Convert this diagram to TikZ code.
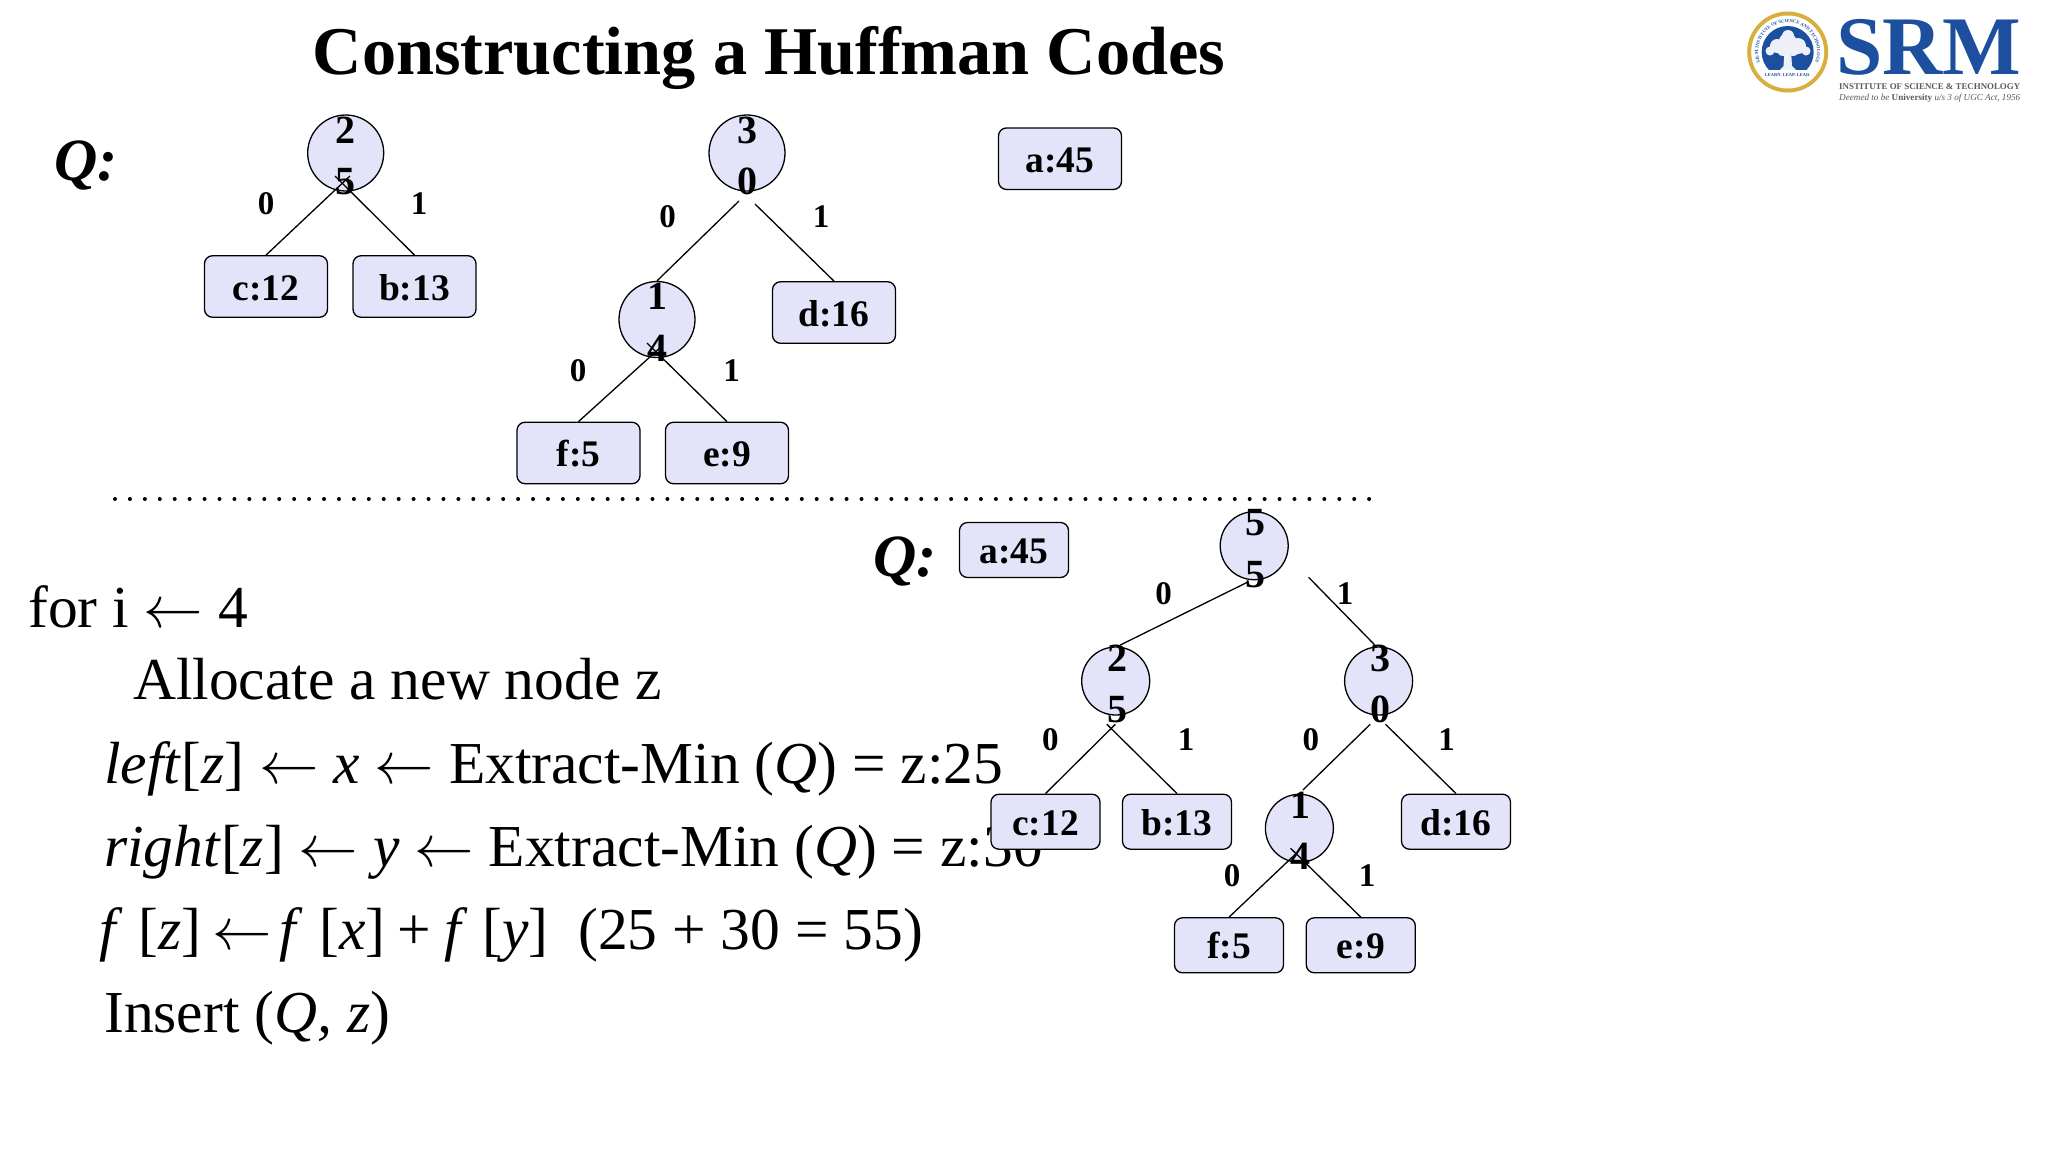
\documentclass[tikz,border=0pt]{standalone}
\usepackage{fontspec}
\setmainfont{Liberation Serif}
\usetikzlibrary{decorations.text}
\definecolor{nodefill}{HTML}{E3E4FA}
\definecolor{srmblue}{HTML}{1D4F9F}
\definecolor{srmgold}{HTML}{D8AE3C}
\definecolor{srmgrey}{HTML}{5A5A5A}
\newcommand{\tstack}[2]{\makebox[0pt]{\smash{\raisebox{10pt}{\makebox[0pt]{#1}}\raisebox{-41.5pt}{\makebox[0pt]{#2}}}}}
\newcommand{\tstackb}[2]{\kern3pt\tstack{#1}{#2}}
\newcommand{\larr}{\scalebox{5.95}{\fontsize{10}{12}\selectfont$\leftarrow$}}
\tikzset{
  x=1pt,y=-1pt,
  leafbig/.style={draw=black,line width=1.3pt,fill=nodefill,rounded corners=8pt,minimum width=123pt,minimum height=61.5pt,inner sep=0pt,text height=27pt,text depth=0pt,font=\fontsize{37.5}{44}\selectfont\bfseries},
  leafsmall/.style={leafbig,minimum width=109pt,minimum height=55pt},
  innerbig/.style={circle,draw=black,line width=1.3pt,fill=nodefill,minimum size=76pt,inner sep=0pt,font=\fontsize{40}{46}\selectfont\bfseries},
  innersmall/.style={innerbig,minimum size=68pt},
  edge/.style={draw=black,line width=1.3pt},
  bit/.style={inner sep=0pt,font=\fontsize{33}{38}\selectfont\bfseries},
  codeline/.style={anchor=base west,inner sep=0pt,font=\fontsize{59.5}{70}\selectfont},
  qmark/.style={anchor=base west,inner sep=0pt,font=\fontsize{60}{68}\selectfont\bfseries\itshape},
}
\begin{document}
\begin{tikzpicture}
\useasboundingbox[fill=white] (0,0) rectangle (2048,1152);
% title
\node[anchor=base west,inner sep=0pt,font=\fontsize{68.3}{80}\selectfont\bfseries] (title) at (312.5,74.5) {Constructing a Huffman Codes};
% logo
\fill[srmgold] (1787.7,52) circle (40.5);
\fill[white] (1787.7,52) circle (36.5);
\fill[srmblue] (1787.7,52) circle (26);
\fill[white!92!srmblue] (1787.7,42) circle (9) (1777,46) circle (7) (1798,46) circle (8) (1770,51) circle (4.5) (1806,51) circle (4.5) (1783,50) circle (6) (1793,50) circle (6) (1788,36) circle (6);
\fill[white!92!srmblue] (1784.5,50) -- (1791,50) -- (1792,66) -- (1796,70) -- (1780,70) -- (1783.5,66) -- cycle;
\fill[white] (1768,70) rectangle (1808,80);
\path[postaction={decorate},decoration={text along path,text align=center,text={|\fontsize{4.6}{5}\selectfont\bfseries\color{srmblue}|S.R.M. INSTITUTE OF SCIENCE AND TECHNOLOGY}}]
  (1766.8,72.9) arc[start angle=225,end angle=-45,radius=29.5pt];
\node[inner sep=0pt,font=\fontsize{4.5}{5}\selectfont\bfseries,text=srmblue] (motto) at (1787.7,75) {LEARN. LEAP. LEAD.};
\node[anchor=base west,inner sep=0pt,text=srmblue,font=\fontsize{85}{90}\selectfont\bfseries] (srm) at (1836,74) {\resizebox{185pt}{!}{SRM}};
\node[anchor=base west,inner sep=0pt,text=srmgrey,font=\bfseries] (inst) at (1839,89) {\resizebox{181pt}{!}{INSTITUTE OF SCIENCE \& TECHNOLOGY}};
\node[anchor=base west,inner sep=0pt,text=srmgrey,font=\itshape] (deemed) at (1839,100) {\resizebox{181pt}{!}{Deemed to be {\bfseries\upshape University} u/s 3 of UGC Act, 1956}};
% Q labels
\node[qmark] (q1) at (54,180) {Q:};
\node[qmark] (q2) at (873,576) {Q:};
% dotted rule
\coordinate (dotL) at (115,499);
\coordinate (dotR) at (1372,499);
\draw[line width=4pt,line cap=round,dash pattern=on 0pt off 14.93pt] (dotL) -- (dotR);
% pseudo-code
\node[codeline] (l1) at (28,627) {for i \larr{} 4};
\node[codeline] (l2) at (133,699) {Allocate a new node z};
\node[codeline] (l3) at (104,783.5) {\textit{left}[\textit{z}] \larr{} \textit{x} \larr{} Extract-Min (\textit{Q}) = z:25};
\node[codeline] (l4) at (104,866.5) {\textit{right}[\textit{z}] \larr{} \textit{y} \larr{} Extract-Min (\textit{Q}) = z:30};
\node[codeline] (l5) at (104,949) {\kern-5pt\textit{f}\kern16pt[\textit{z}]\kern11pt\larr{}\kern8pt\textit{f}\kern16pt[\textit{x}]\kern12pt+\kern14pt\textit{f}\kern14pt[\textit{y}]\kern30pt(25 + 30 = 55)};
\node[codeline] (l6) at (104,1032.5) {Insert (\textit{Q, z})};
% upper trees
\node[innerbig] (A25) at (345.7,153) {\tstack{2}{5}};
\node[leafbig] (Ac) at (266,286.5) {c:12};
\node[leafbig] (Ab) at (414.5,286.5) {b:13};
\node[innerbig] (A30) at (747,153) {\tstack{3}{0}};
\node[leafbig] (Ad) at (834,312.5) {d:16};
\node[innerbig] (A14) at (657,319.5) {\tstack{1}{4}};
\node[leafbig] (Af) at (578.5,453) {f:5};
\node[leafbig] (Ae) at (727,453) {e:9};
\node[leafbig] (Aa) at (1060,158.7) {a:45};
\coordinate (A25l) at (350,176);
\coordinate (A25r) at (335,176);
\coordinate (A30l) at (739,201);
\coordinate (A30r) at (755,204);
\coordinate (A14l) at (662,346);
\coordinate (A14r) at (647,343);
\draw[edge] (A25l) -- (Ac.north);
\draw[edge] (A25r) -- (Ab.north);
\draw[edge] (A30l) -- (A14.north);
\draw[edge] (A30r) -- (Ad.north);
\draw[edge] (A14l) -- (Af.north);
\draw[edge] (A14r) -- (Ae.north);
\node[bit] (Ab1) at (266,204) {0};
\node[bit] (Ab2) at (419,204) {1};
\node[bit] (Ab3) at (667.5,217) {0};
\node[bit] (Ab4) at (821,217) {1};
\node[bit] (Ab5) at (578,371) {0};
\node[bit] (Ab6) at (731.5,371) {1};
% lower tree
\node[leafsmall] (Ba) at (1014,550) {a:45};
\node[innersmall] (B55) at (1254.2,545.7) {\tstackb{5}{5}};
\node[innersmall] (B25) at (1115.7,681) {\tstackb{2}{5}};
\node[innersmall] (B30) at (1378.6,681) {\tstackb{3}{0}};
\node[innersmall] (B14) at (1299.4,828.3) {\tstackb{1}{4}};
\node[leafsmall] (Bc) at (1045.5,821.7) {c:12};
\node[leafsmall] (Bb) at (1177,821.7) {b:13};
\node[leafsmall] (Bd) at (1456,821.7) {d:16};
\node[leafsmall] (Bf) at (1229,945.3) {f:5};
\node[leafsmall] (Be) at (1360.8,945.3) {e:9};
\coordinate (B55l) at (1248.5,581.7);
\coordinate (B55r) at (1308.6,577.3);
\coordinate (B25t) at (1120.3,645);
\coordinate (B30t) at (1374.8,645);
\coordinate (B25l) at (1115.3,724.3);
\coordinate (B25r) at (1106.9,724.3);
\coordinate (B30l) at (1370.2,724.3);
\coordinate (B30r) at (1385.5,724.3);
\coordinate (B14t) at (1302.9,790);
\coordinate (B14l) at (1296.3,853.3);
\coordinate (B14r) at (1290.6,848.3);
\draw[edge] (B55l) -- (B25t);
\draw[edge] (B55r) -- (B30t);
\draw[edge] (B25l) -- (Bc.north);
\draw[edge] (B25r) -- (Bb.north);
\draw[edge] (B30l) -- (B14t);
\draw[edge] (B30r) -- (Bd.north);
\draw[edge] (B14l) -- (Bf.north);
\draw[edge] (B14r) -- (Be.north);
\node[bit] (Bb1) at (1163.5,594) {0};
\node[bit] (Bb2) at (1345,594) {1};
\node[bit] (Bb3) at (1050.3,740) {0};
\node[bit] (Bb4) at (1186,740) {1};
\node[bit] (Bb5) at (1310.9,740) {0};
\node[bit] (Bb6) at (1446.7,740) {1};
\node[bit] (Bb7) at (1232,875.7) {0};
\node[bit] (Bb8) at (1367,875.7) {1};
\end{tikzpicture}
\end{document}
